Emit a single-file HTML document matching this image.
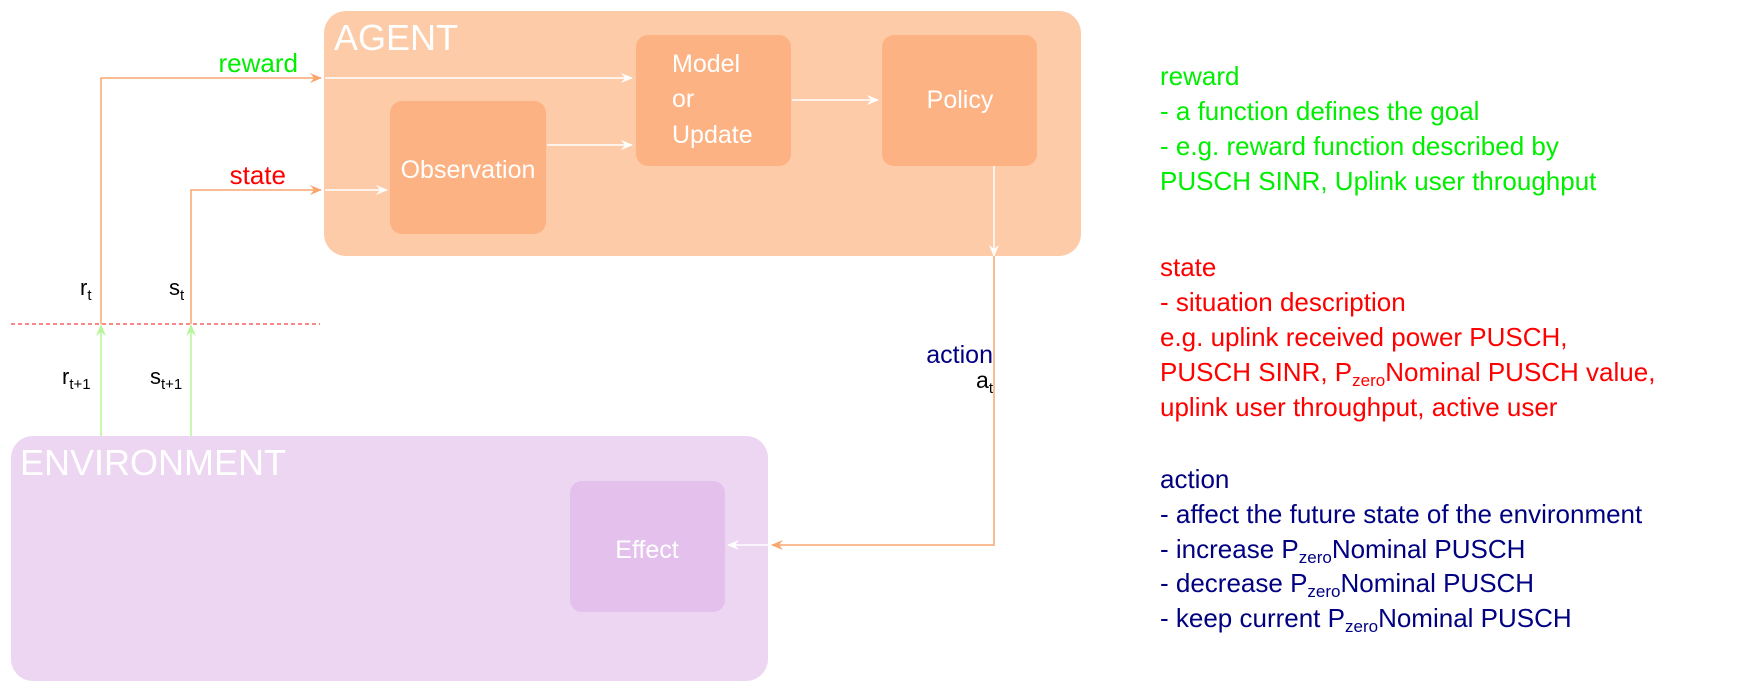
<!DOCTYPE html>
<html><head><meta charset="utf-8"><style>
html,body{margin:0;padding:0;background:#fff;width:1737px;height:690px;overflow:hidden}
svg{display:block;font-family:"Liberation Sans",sans-serif}
</style></head><body>
<svg width="1737" height="690" viewBox="0 0 1737 690" xmlns="http://www.w3.org/2000/svg">
<defs>
<marker id="ao" markerWidth="12" markerHeight="10" refX="11" refY="5" orient="auto" markerUnits="userSpaceOnUse"><path d="M0,0 L12,5 L0,10 L4,5 Z" fill="#f8a66e"/></marker>
<marker id="aw" markerWidth="12" markerHeight="10" refX="11" refY="5" orient="auto" markerUnits="userSpaceOnUse"><path d="M0,0 L12,5 L0,10 L4,5 Z" fill="#fff"/></marker>
<marker id="ag" markerWidth="12" markerHeight="10" refX="11" refY="5" orient="auto" markerUnits="userSpaceOnUse"><path d="M0,0 L12,5 L0,10 L4,5 Z" fill="#b6f59a"/></marker>
</defs>
<rect x="324" y="11" width="757" height="245" rx="22" fill="#fdcba8"/>
<rect x="636" y="35" width="155" height="131" rx="12" fill="#fdb283"/>
<rect x="882" y="35" width="155" height="131" rx="12" fill="#fdb283"/>
<rect x="390" y="101" width="156" height="133" rx="12" fill="#fdb283"/>
<text x="334" y="50" font-size="36" fill="#fff">AGENT</text>
<text x="672" y="72" font-size="25" fill="#fff">Model</text>
<text x="672" y="107" font-size="25" fill="#fff">or</text>
<text x="672" y="143" font-size="25" fill="#fff">Update</text>
<text x="960" y="108" font-size="25" fill="#fff" text-anchor="middle">Policy</text>
<text x="468" y="178" font-size="25" fill="#fff" text-anchor="middle">Observation</text>
<rect x="11" y="436" width="757" height="245" rx="22" fill="#ecd6f2"/>
<rect x="570" y="481" width="155" height="131" rx="12" fill="#e4c0ec"/>
<text x="20" y="475" font-size="36" fill="#fff">ENVIRONMENT</text>
<text x="647" y="558" font-size="25" fill="#fff" text-anchor="middle">Effect</text>
<polyline points="101,324 101,78 321,78" fill="none" stroke="#f8a66e" stroke-width="1.5" marker-end="url(#ao)"/>
<line x1="325" y1="78" x2="632" y2="78" stroke="#fff" stroke-width="1.5" marker-end="url(#aw)"/>
<polyline points="191,324 191,190 321,190" fill="none" stroke="#f8a66e" stroke-width="1.5" marker-end="url(#ao)"/>
<line x1="325" y1="190" x2="387" y2="190" stroke="#fff" stroke-width="1.5" marker-end="url(#aw)"/>
<line x1="547" y1="145" x2="632" y2="145" stroke="#fff" stroke-width="1.5" marker-end="url(#aw)"/>
<line x1="792" y1="100" x2="878" y2="100" stroke="#fff" stroke-width="1.5" marker-end="url(#aw)"/>
<line x1="994" y1="166" x2="994" y2="256" stroke="#fff" stroke-width="1.5" marker-end="url(#aw)"/>
<polyline points="994,256 994,545 772,545" fill="none" stroke="#f8a66e" stroke-width="1.5" marker-end="url(#ao)"/>
<line x1="768" y1="545" x2="728" y2="545" stroke="#fff" stroke-width="1.5" marker-end="url(#aw)"/>
<line x1="11" y1="324" x2="320" y2="324" stroke="#f04040" stroke-width="1.2" stroke-dasharray="4,3"/>
<line x1="101" y1="436" x2="101" y2="325" stroke="#b6f59a" stroke-width="1.5" marker-end="url(#ag)"/>
<line x1="191" y1="436" x2="191" y2="325" stroke="#b6f59a" stroke-width="1.5" marker-end="url(#ag)"/>
<text x="298" y="72" font-size="26" fill="#00ee00" text-anchor="end">reward</text>
<text x="286" y="184" font-size="26" fill="#ff0000" text-anchor="end">state</text>
<text x="80" y="295" font-size="22" fill="#000">r<tspan font-size="15" dy="5">t</tspan></text>
<text x="169" y="295" font-size="22" fill="#000">s<tspan font-size="15" dy="5">t</tspan></text>
<text x="62" y="384" font-size="22" fill="#000">r<tspan font-size="15" dy="5">t+1</tspan></text>
<text x="150" y="384" font-size="22" fill="#000">s<tspan font-size="15" dy="5">t+1</tspan></text>
<text x="993" y="363" font-size="25" fill="#000080" text-anchor="end">action</text>
<text x="993" y="388" font-size="23" fill="#000" text-anchor="end">a<tspan font-size="15" dy="5">t</tspan></text>
<g font-size="26">
<g fill="#00ee00">
<text x="1160" y="85">reward</text>
<text x="1160" y="120">- a function defines the goal</text>
<text x="1160" y="155">- e.g. reward function described by</text>
<text x="1160" y="190">PUSCH SINR, Uplink user throughput</text>
</g>
<g fill="#ff0000">
<text x="1160" y="276">state</text>
<text x="1160" y="311">- situation description</text>
<text x="1160" y="346">e.g. uplink received power PUSCH,</text>
<text x="1160" y="381">PUSCH SINR, P<tspan font-size="17" dy="5">zero</tspan><tspan dy="-5">Nominal PUSCH value,</tspan></text>
<text x="1160" y="416">uplink user throughput, active user</text>
</g>
<g fill="#000080">
<text x="1160" y="488">action</text>
<text x="1160" y="523">- affect the future state of the environment</text>
<text x="1160" y="558">- increase P<tspan font-size="17" dy="5">zero</tspan><tspan dy="-5">Nominal PUSCH</tspan></text>
<text x="1160" y="592">- decrease P<tspan font-size="17" dy="5">zero</tspan><tspan dy="-5">Nominal PUSCH</tspan></text>
<text x="1160" y="627">- keep current P<tspan font-size="17" dy="5">zero</tspan><tspan dy="-5">Nominal PUSCH</tspan></text>
</g>
</g>
</svg>
</body></html>
